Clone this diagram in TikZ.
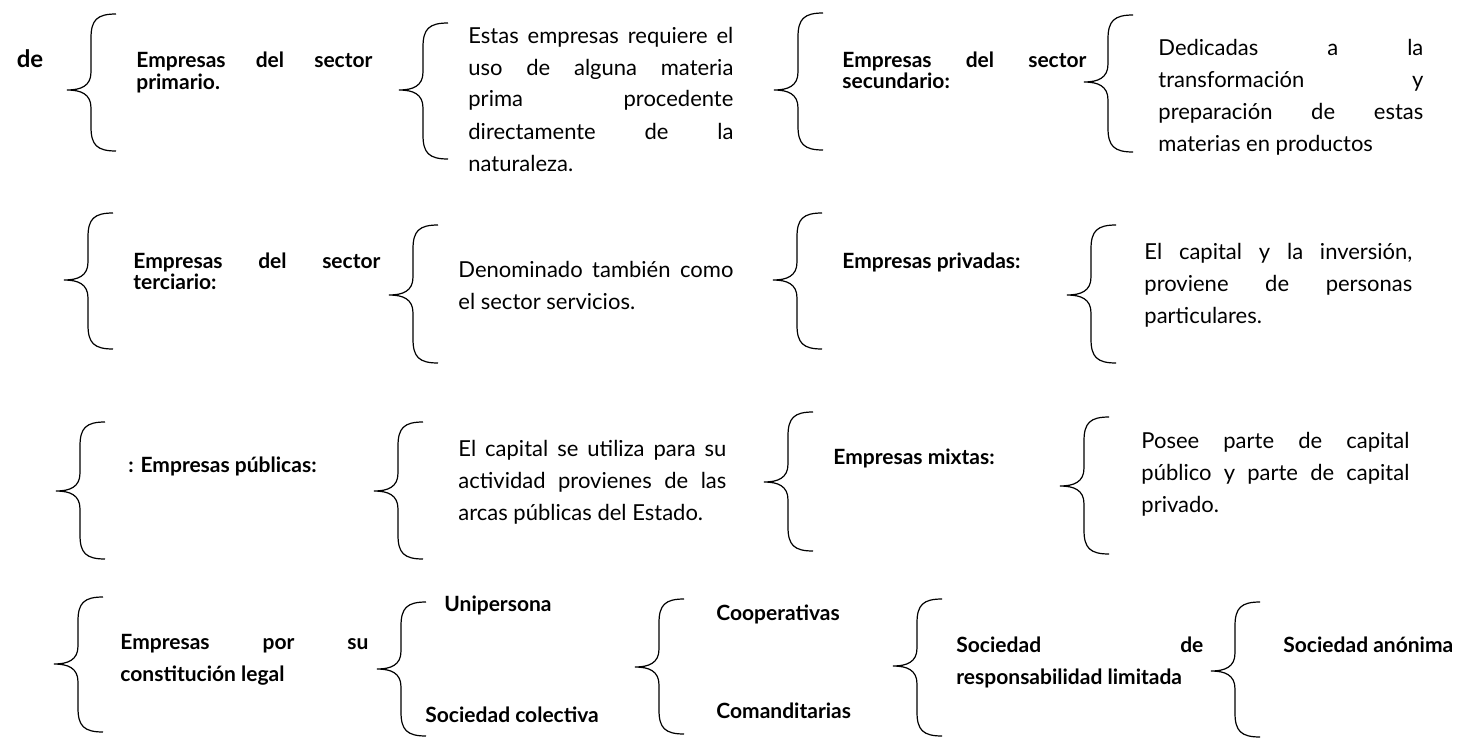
\documentclass[tikz,border=0pt]{standalone}
\usepackage{fontspec}
\setmainfont{Lato}
\usepackage{tikz}
\tolerance=10000
\hyphenpenalty=10000

% llave: linea vertical en x, extremo superior, punta, extremo inferior
\newcommand{\llave}[4]{%
    \draw[line width=0.6pt] (#1+25,#2) .. controls (#1+6,#2) and (#1,#2+6) .. (#1,#2+24)
        -- (#1,#3-18) .. controls (#1,#3-4) and (#1-10,#3) .. (#1-24,#3)
        .. controls (#1-10,#3) and (#1,#3+4) .. (#1,#3+18)
        -- (#1,#4-24) .. controls (#1,#4-6) and (#1+6,#4) .. (#1+25,#4);}

\begin{document}
\begin{tikzpicture}[x=0.5pt, y=-0.5pt,
    titulo/.style={font=\bfseries\fontsize{10.5}{10.5}\selectfont, anchor=base west, inner sep=0pt, align=justify},
    parrafo/.style={font=\fontsize{11}{16}\selectfont, anchor=base west, inner sep=0pt, align=justify}]
    \useasboundingbox (0,0) rectangle (1478,739);

    \foreach \x/\a/\b/\c in {91/14/90/151, 423/23/90/159, 798/13/90/150, 1108/15/82/152,
        88/213/280/349, 413/225/295/363, 797/213/280/349, 1091/225/295/363,
        80/422/491/559, 398/422/491/559, 788/412/482/551, 1084/417/486/554,
        78/597/664/732, 401/602/669/736, 659/599/667/734, 917/599/666/736, 1235/602/671/737}
        \llave{\x}{\a}{\b}{\c};

    \node[font=\bfseries\fontsize{12}{12}\selectfont, anchor=base, inner sep=0pt] (de) at (30,68) {de};

    \node[titulo, text width=118pt] (primario) at (136,68) {Empresas del sector\linebreak primario.};
    \node[parrafo, text width=132.5pt] (prima) at (468,43) {Estas empresas requiere el\linebreak uso de alguna materia\linebreak prima procedente\linebreak directamente de la\linebreak naturaleza.};
    \node[titulo, text width=122pt] (secundario) at (842,67) {Empresas del sector\linebreak secundario:};
    \node[parrafo, text width=132.5pt] (transformacion) at (1158,55) {Dedicadas a la\linebreak transformación y\linebreak preparación de estas\linebreak materias en productos};

    \node[titulo, text width=123.5pt] (terciario) at (133,268) {Empresas del sector\linebreak terciario:};
    \node[parrafo, text width=137.5pt] (servicios) at (458,277) {Denominado también como\linebreak el sector servicios.};
    \node[titulo] (privadas) at (842,268) {Empresas privadas:};
    \node[parrafo, text width=134pt] (particulares) at (1144,259) {El capital y la inversión,\linebreak proviene de personas\linebreak particulares.};

    \node[titulo] (publicas) at (128,472) {: Empresas públicas:};
    \node[parrafo, text width=134pt] (estado) at (458,456) {El capital se utiliza para su\linebreak actividad provienes de las\linebreak arcas públicas del Estado.};
    \node[titulo] (mixtas) at (833,464) {Empresas mixtas:};
    \node[parrafo, text width=134pt] (publicoprivado) at (1141,448) {Posee parte de capital\linebreak público y parte de capital\linebreak privado.};

    \node[titulo, font=\bfseries\fontsize{10.5}{16}\selectfont, text width=124pt] (legal) at (120,649) {Empresas por su\linebreak constitución legal};
    \node[titulo] (unipersona) at (444,611) {Unipersona};
    \node[titulo] (colectiva) at (425,722) {Sociedad colectiva};
    \node[titulo] (cooperativas) at (716,620) {Cooperativas};
    \node[titulo] (comanditarias) at (716,718) {Comanditarias};
    \node[titulo, font=\bfseries\fontsize{10.5}{16}\selectfont, text width=123.5pt] (limitada) at (956,652) {Sociedad de\linebreak responsabilidad limitada};
    \node[titulo] (anonima) at (1283,652) {Sociedad anónima};
\end{tikzpicture}
\end{document}
